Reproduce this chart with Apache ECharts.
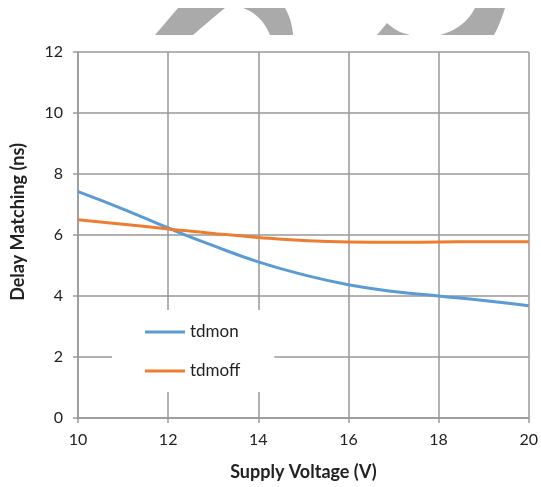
<!DOCTYPE html>
<html><head><meta charset="utf-8">
<script src="https://cdn.jsdelivr.net/npm/echarts@6/dist/echarts.min.js"></script>
<style>html,body{margin:0;padding:0;background:#fff}#c{width:541px;height:487px}</style>
</head><body><div id="c"></div>
<script>
const voltages = [10, 11, 12, 13, 14, 15, 16, 17, 18, 19, 20];
const tdmon  = [7.42, 6.85, 6.23, 5.65, 5.12, 4.70, 4.37, 4.15, 4.00, 3.85, 3.68];
const tdmoff = [6.50, 6.35, 6.20, 6.05, 5.92, 5.82, 5.77, 5.76, 5.77, 5.78, 5.78];
const seriesNames = ['tdmon', 'tdmoff'];
const colors = ['#5b9bd5', '#ed7d31'];

// decorative watermark outline helper: quadratic curve sampled into points
function quad(p0, c, p1) {
  const pts = [];
  for (let k = 0; k <= 10; k++) {
    const t = k / 10, u = 1 - t;
    pts.push([u*u*p0[0] + 2*u*t*c[0] + t*t*p1[0], u*u*p0[1] + 2*u*t*c[1] + t*t*p1[1]]);
  }
  return pts;
}
const wm = '#aaaaaa';
const wmShapes = [
  [[155,35],[178,8]].concat(quad([225,8],[208,22],[193,35])),
  [[243,8]].concat(quad([285,8],[292,20],[293,35])).concat(quad([270,35],[262,15],[243,8])),
  [[377,35]].concat(quad([387,23],[396,32],[410,35])),
  quad([440,35],[465,28],[475,8]).concat(quad([505,8],[500,24],[494,35]))
];

const chart = echarts.init(document.getElementById('c'), null, {renderer: 'canvas'});
const font = 'Lato, "Open Sans", sans-serif';
chart.setOption({
  animation: false,
  backgroundColor: '#fff',
  grid: {left: 78, right: 11, top: 52, bottom: 69},
  xAxis: {
    type: 'value', min: 10, max: 20, interval: 2,
    name: 'Supply Voltage (V)', nameLocation: 'middle', nameGap: 45,
    nameTextStyle: {fontFamily: font, fontSize: 18, fontWeight: 'bold', color: '#222'},
    axisLine: {lineStyle: {color: '#999', width: 1.5}},
    axisTick: {show: true, length: 5, lineStyle: {color: '#999', width: 1.5}},
    axisLabel: {fontFamily: font, fontSize: 16, color: '#222', margin: 14},
    splitLine: {show: true, lineStyle: {color: '#999', width: 1.5}}
  },
  yAxis: {
    type: 'value', min: 0, max: 12, interval: 2,
    name: 'Delay Matching (ns)', nameLocation: 'middle', nameGap: 51, nameRotate: 90,
    nameTextStyle: {fontFamily: font, fontSize: 18, fontWeight: 'bold', color: '#222', padding: [0, 0, 0, 26]},
    axisLine: {show: true, lineStyle: {color: '#999', width: 1.5}},
    axisTick: {show: true, length: 5, lineStyle: {color: '#999', width: 1.5}},
    axisLabel: {fontFamily: font, fontSize: 16, color: '#222', margin: 15},
    splitLine: {show: true, lineStyle: {color: '#999', width: 1.5}}
  },
  legend: {
    left: 112, top: 310,
    orient: 'vertical', itemGap: 19, padding: [12, 34, 11, 33],
    backgroundColor: '#fff',
    itemWidth: 40, itemHeight: 3, itemTextGap: 4, icon: 'rect',
    data: seriesNames,
    textStyle: {fontFamily: font, fontSize: 17, lineHeight: 20, color: '#222'}
  },
  series: [
    {name: seriesNames[0], type: 'line', smooth: true, showSymbol: false,
     lineStyle: {color: colors[0], width: 3}, itemStyle: {color: colors[0]},
     data: voltages.map((v, i) => [v, tdmon[i]])},
    {name: seriesNames[1], type: 'line', smooth: true, showSymbol: false,
     lineStyle: {color: colors[1], width: 3}, itemStyle: {color: colors[1]},
     data: voltages.map((v, i) => [v, tdmoff[i]])}
  ],
  graphic: wmShapes.map(pts => ({type: 'polygon', shape: {points: pts}, style: {fill: wm}}))
});
</script></body></html>
